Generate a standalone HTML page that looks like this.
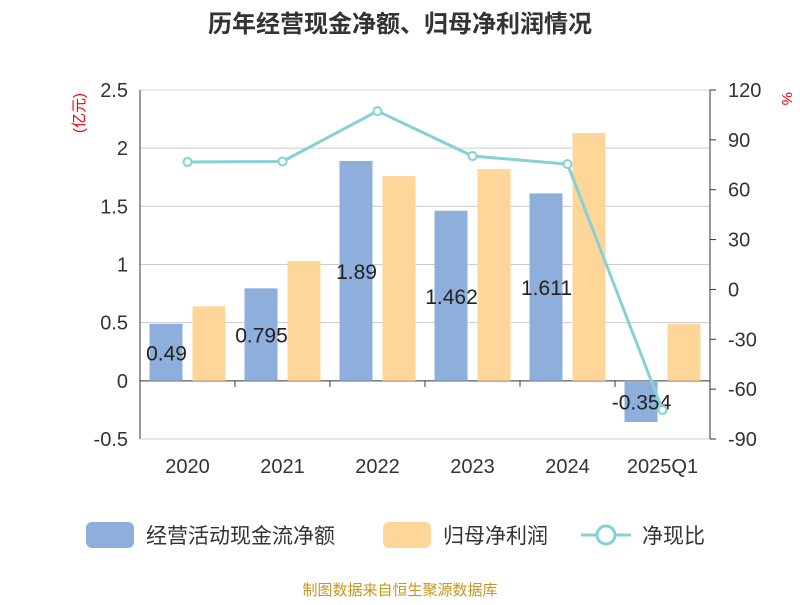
<!DOCTYPE html>
<html><head><meta charset="utf-8"><style>
body{margin:0;background:#fff;}
svg text{font-family:"Liberation Sans","Noto Sans CJK SC",sans-serif;}
</style></head><body>
<svg id="c" width="800" height="600" xmlns="http://www.w3.org/2000/svg">
<text x="400" y="32" text-anchor="middle" font-size="24" font-weight="bold" fill="#333">历年经营现金净额、归母净利润情况</text>
<text transform="translate(84,113) rotate(-90)" text-anchor="middle" font-size="15" fill="#e00">(亿元)</text>
<text transform="translate(782,92) rotate(90)" font-size="15" fill="#e00">%</text>
<g id="grid"></g><g id="bars"></g><g id="line"></g><g id="axes"></g>
<g>
<rect x="86" y="522" width="48" height="26" rx="6" fill="#8eaedb"/>
<text x="146" y="543" font-size="21" fill="#333">经营活动现金流净额</text>
<rect x="383" y="522" width="48" height="26" rx="6" fill="#ffd699"/>
<text x="443" y="543" font-size="21" fill="#333">归母净利润</text>
<line x1="581" y1="535" x2="631" y2="535" stroke="#85d1d6" stroke-width="3"/>
<circle cx="606" cy="535" r="9" fill="#fff" stroke="#85d1d6" stroke-width="3"/>
<text x="642" y="543" font-size="21" fill="#333">净现比</text>
</g>
<text x="400" y="595" text-anchor="middle" font-size="15" fill="#c8961e">制图数据来自恒生聚源数据库</text>
</svg>
<script>
const categories=["2020","2021","2022","2023","2024","2025Q1"];
const cashValues=[0.49,0.795,1.89,1.462,1.611,-0.354];
const profitValues=[0.64,1.03,1.76,1.82,2.13,0.49];
const ratioValues=[76.7,77,107.3,80.3,75.4,-72.5];
const leftTicks=[-0.5,0,0.5,1,1.5,2,2.5];
const rightTicks=[-90,-60,-30,0,30,60,90,120];
const NS="http://www.w3.org/2000/svg";
const X0=140,X1=710,YT=90,YB=439;
const yL=v=>YB-(v+0.5)/3*(YB-YT);
const yR=v=>YB-(v+90)/210*(YB-YT);
const band=(X1-X0)/categories.length;
const xc=i=>X0+band*(i+0.5);
function mk(tag,attrs,parent,txt){const e=document.createElementNS(NS,tag);for(const k in attrs)e.setAttribute(k,attrs[k]);if(txt!==undefined)e.textContent=txt;document.getElementById(parent).appendChild(e);return e;}
leftTicks.forEach(t=>{
 const g=mk("line",{x1:X0,x2:X1,y1:yL(t),y2:yL(t),stroke:t===0?"#333":"#ccc","stroke-width":1},"grid");
 
 
 const l=mk("text",{x:X0-12,y:yL(t)+7,"text-anchor":"end","font-size":20,fill:"#333"},"axes",String(t));
 
 
});
rightTicks.forEach(t=>{
 const l=mk("text",{x:X1+18,y:yR(t)+7,"font-size":20,fill:"#333"},"axes",String(t));
 
 
 const k=mk("line",{x1:X1,x2:X1+6,y1:yR(t),y2:yR(t),stroke:"#333"},"axes");
 
 
});
let a=mk("line",{x1:X0,x2:X0,y1:YT,y2:YB,stroke:"#333"},"axes");


a=mk("line",{x1:X1,x2:X1,y1:YT,y2:YB,stroke:"#333"},"axes");


categories.forEach((c,i)=>{
 const t=mk("text",{x:xc(i),y:473,"text-anchor":"middle","font-size":20,fill:"#333"},"axes",c);
 
 
 const tk=mk("line",{x1:X0+band*(i+1),x2:X0+band*(i+1),y1:yL(0),y2:yL(0)+6,stroke:"#333"},"axes");
 
 
 const v=cashValues[i],y0=yL(0),y1=yL(v);
 const b=mk("rect",{x:xc(i)-38,y:Math.min(y0,y1),width:33,height:Math.abs(y1-y0),fill:"#8eaedb"},"bars");
 
 
 const p=profitValues[i],py=yL(p);
 const b2=mk("rect",{x:xc(i)+5,y:Math.min(y0,py),width:33,height:Math.abs(py-y0),fill:"#ffd699"},"bars");
 
 
 const lb=mk("text",{x:xc(i)-21,y:(y0+y1)/2+8,"text-anchor":"middle","font-size":21,fill:"#222"},"line",String(v));
 
 
});
const pts=ratioValues.map((v,i)=>xc(i)+","+yR(v)).join(" ");
const pl=mk("polyline",{points:pts,fill:"none",stroke:"#85d1d6","stroke-width":3},"line");


ratioValues.forEach((v,i)=>{
 const c=mk("circle",{cx:xc(i),cy:yR(v),r:4,fill:"#fff",stroke:"#85d1d6","stroke-width":2},"line");
 
 
});
</script>
</body></html>
